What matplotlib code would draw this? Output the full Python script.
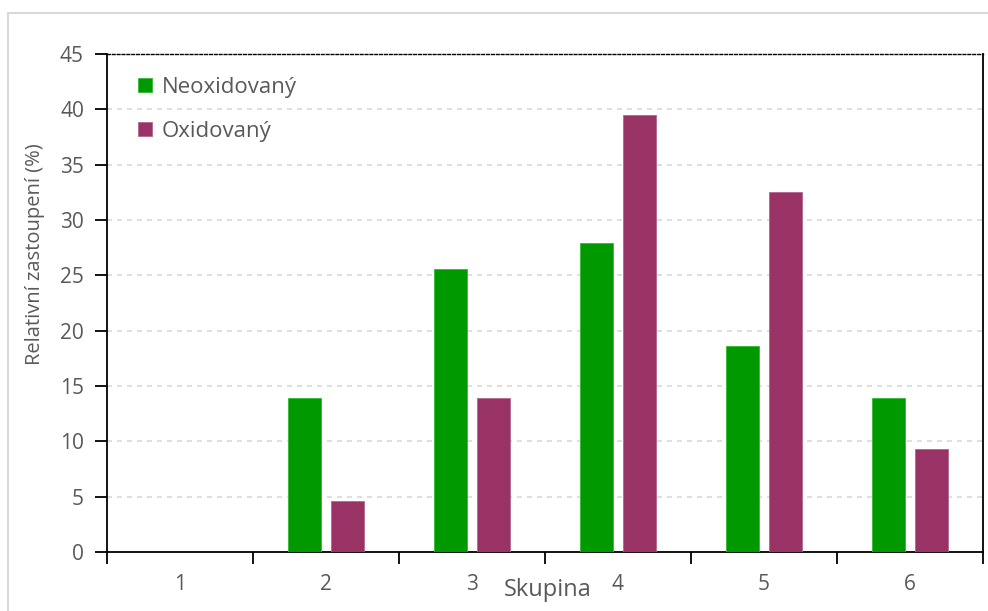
import matplotlib
matplotlib.use("Agg")
import matplotlib.pyplot as plt
from matplotlib.patches import Rectangle
from matplotlib.ticker import FixedLocator, NullFormatter

plt.rcParams['font.family'] = ['Open Sans', 'DejaVu Sans']

groups = [1, 2, 3, 4, 5, 6]
neoxidovany = [0.0, 13.95, 25.58, 27.91, 18.60, 13.95]
oxidovany = [0.0, 4.65, 13.95, 39.53, 32.56, 9.30]
series_labels = ["Neoxidovaný", "Oxidovaný"]
yticks = [0, 5, 10, 15, 20, 25, 30, 35, 40, 45]

green = "#009900"
purple = "#993366"
text_gray = "#595959"

fig = plt.figure(figsize=(9.88, 6.11), dpi=100)
fig.patches.append(Rectangle((8 / 988, -0.05), 1.2, 1 - 13 / 611 + 0.05,
                             transform=fig.transFigure, fill=False,
                             edgecolor="#d9d9d9", linewidth=1.5))
ax = fig.add_axes([107 / 988, 1 - 552 / 611, (983 - 107) / 988, (552 - 54) / 611])

width = 0.226
offset = 0.144
x = list(groups)
ax.bar([g - offset for g in x], neoxidovany, width, color=green,
       edgecolor="#33b833", linewidth=0.6, label=series_labels[0], zorder=3)
ax.bar([g + offset for g in x], oxidovany, width, color=purple,
       edgecolor="#b36690", linewidth=0.6, label=series_labels[1], zorder=3)

ax.set_xlim(0.5, 6.5)
ax.set_ylim(0, 45)

ax.set_yticks(yticks)
ax.tick_params(axis='y', length=8.6, width=1.3, color='black',
               labelcolor=text_gray, labelsize=15, pad=8)
for y in yticks[1:-1]:
    ax.axhline(y, color="#d9d9d9", linestyle=(0, (3, 3)), linewidth=1.2, zorder=1)

ax.xaxis.set_major_locator(FixedLocator([g - 0.5 for g in groups] + [6.5]))
ax.xaxis.set_major_formatter(NullFormatter())
ax.xaxis.set_minor_locator(FixedLocator(groups))
ax.set_xticklabels([str(g) for g in groups], minor=True)
ax.tick_params(axis='x', which='major', length=8.6, width=1.3, color='black')
ax.tick_params(axis='x', which='minor', length=0, labelcolor=text_gray,
               labelsize=15, pad=16)

for side in ['left', 'bottom', 'right']:
    ax.spines[side].set_color('black')
    ax.spines[side].set_linewidth(1.3)
ax.spines['top'].set_linestyle((0, (2, 1.5)))
ax.spines['top'].set_linewidth(1.0)
ax.spines['top'].set_color('black')

ax.set_xlabel("Skupina", color=text_gray, fontsize=17)
ax.xaxis.set_label_coords(0.503, -0.052)
ax.set_ylabel("Relativní zastoupení (%)", color=text_gray, fontsize=14.5)
ax.yaxis.set_label_coords(-0.0708, 0.599)

ax.legend(loc='upper left', bbox_to_anchor=(0.035, 0.954), frameon=False,
          fontsize=16, labelcolor=text_gray, handlelength=0.63, handleheight=0.59,
          handletextpad=0.45, labelspacing=1.05, borderaxespad=0, borderpad=0)

fig.savefig("out.png", dpi=100)
